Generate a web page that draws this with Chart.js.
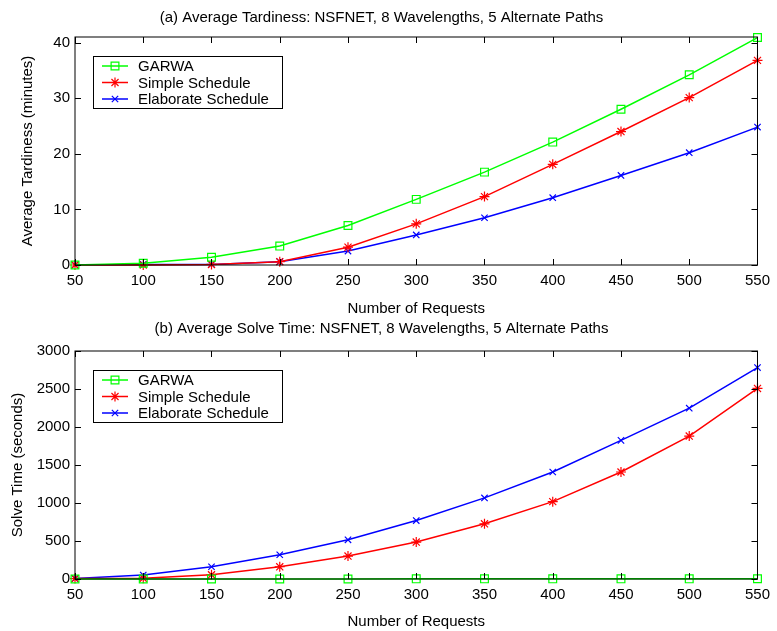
<!DOCTYPE html>
<html>
<head>
<meta charset="utf-8">
<script src="https://cdn.jsdelivr.net/npm/chart.js@4/dist/chart.umd.min.js"></script>
<style>
  body { margin: 0; background: #fff; }
  canvas { display: block; }
</style>
</head>
<body>
<canvas id="tardChart" width="777" height="318"></canvas>
<canvas id="solveChart" width="777" height="313"></canvas>
<script>
// number of requests (x axis)
const requests = [50, 100, 150, 200, 250, 300, 350, 400, 450, 500, 550];
const seriesNames = ['GARWA', 'Simple Schedule', 'Elaborate Schedule'];

// (a) average tardiness, minutes
const tardGarwa = [0, 0.3, 1.4, 3.4, 7.1, 11.8, 16.7, 22.1, 28.0, 34.2, 40.9];
const tardSimple = [0, 0, 0.1, 0.6, 3.2, 7.4, 12.3, 18.1, 24.0, 30.1, 36.8];
const tardElaborate = [0, 0.1, 0.1, 0.6, 2.5, 5.4, 8.5, 12.1, 16.1, 20.2, 24.8];

// (b) average solve time, seconds
const solveGarwa = [1, 1, 1, 1, 1, 2, 2, 2, 2, 2, 3];
const solveSimple = [5, 10, 56, 161, 302, 486, 726, 1018, 1408, 1881, 2507];
const solveElaborate = [5, 52, 161, 319, 516, 769, 1067, 1408, 1824, 2248, 2782];

const FONT = "'Liberation Sans', Arial, Helvetica, sans-serif";
const colors = ['#00ff00', '#ff0000', '#0000ff'];
const markers = ['rect', 'star', 'crossRot'];
const markerSize = [5.5, 5, 4.5];

Chart.defaults.font.family = FONT;
Chart.defaults.font.size = 15;
Chart.defaults.color = '#000';

// draw a marker by hand (used in the legend)
function drawMarker(ctx, type, x, y, r) {
  ctx.beginPath();
  if (type === 'rect') {
    const s = r * Math.SQRT1_2;
    ctx.rect(x - s, y - s, 2 * s, 2 * s);
  } else {
    if (type === 'star') {
      ctx.moveTo(x - r, y); ctx.lineTo(x + r, y);
      ctx.moveTo(x, y - r); ctx.lineTo(x, y + r);
    }
    const d = r * Math.SQRT1_2;
    ctx.moveTo(x - d, y - d); ctx.lineTo(x + d, y + d);
    ctx.moveTo(x - d, y + d); ctx.lineTo(x + d, y - d);
  }
  ctx.stroke();
}

// box around the plot with inward ticks on every side
const framePlugin = {
  id: 'frame',
  afterDatasetsDraw(chart) {
    const { ctx, chartArea: a } = chart;
    const xs = chart.scales.x, ys = chart.scales.y;
    const len = 6;
    ctx.save();
    ctx.strokeStyle = '#000';
    ctx.lineWidth = 1;
    ctx.strokeRect(a.left, a.top, a.right - a.left, a.bottom - a.top);
    ctx.beginPath();
    xs.ticks.forEach((t, i) => {
      const px = Math.round(xs.getPixelForTick(i)) + 0.5;
      ctx.moveTo(px, a.bottom); ctx.lineTo(px, a.bottom - len);
      ctx.moveTo(px, a.top); ctx.lineTo(px, a.top + len);
    });
    ys.ticks.forEach(t => {
      const py = Math.round(ys.getPixelForValue(t.value)) + 0.5;
      ctx.moveTo(a.left, py); ctx.lineTo(a.left + len, py);
      ctx.moveTo(a.right, py); ctx.lineTo(a.right - len, py);
    });
    ctx.stroke();
    ctx.restore();
  }
};

// legend box inside the upper left of the plot
const boxLegendPlugin = {
  id: 'boxLegend',
  afterDraw(chart) {
    const { ctx, chartArea: a } = chart;
    const bx = a.left + 18, by = a.top + 19, bw = 189, bh = 52;
    ctx.save();
    ctx.fillStyle = '#fff';
    ctx.fillRect(bx, by, bw, bh);
    ctx.strokeStyle = '#000';
    ctx.lineWidth = 1;
    ctx.strokeRect(bx + 0.5, by + 0.5, bw, bh);
    chart.data.datasets.forEach((ds, i) => {
      const y = by + 10 + i * 16.5;
      ctx.strokeStyle = ds.borderColor;
      ctx.lineWidth = 1.5;
      ctx.beginPath();
      ctx.moveTo(bx + 9, y); ctx.lineTo(bx + 35, y);
      ctx.stroke();
      ctx.lineWidth = 1.2;
      drawMarker(ctx, ds.pointStyle, bx + 22, y, ds.pointRadius);
      ctx.fillStyle = '#000';
      ctx.font = '15px ' + FONT;
      ctx.textBaseline = 'middle';
      ctx.textAlign = 'left';
      ctx.fillText(ds.label, bx + 45, y + 1);
    });
    ctx.restore();
  }
};

function makeChart(id, opts) {
  const datasets = opts.series.map((vals, i) => ({
    label: seriesNames[i],
    data: vals,
    borderColor: colors[i],
    backgroundColor: colors[i],
    pointBackgroundColor: 'rgba(0,0,0,0)',
    pointBorderColor: colors[i],
    pointStyle: markers[i],
    pointRadius: markerSize[i],
    pointBorderWidth: 1.2,
    borderWidth: 1.5,
    tension: 0,
    clip: false
  }));

  return new Chart(document.getElementById(id), {
    type: 'line',
    data: { labels: requests, datasets: datasets },
    options: {
      responsive: false,
      animation: false,
      layout: { padding: { left: 0, right: 14, top: 0, bottom: 0 } },
      plugins: {
        legend: { display: false },
        tooltip: { enabled: false },
        title: {
          display: true,
          text: opts.title,
          font: { size: 15, weight: 'normal' },
          padding: opts.titlePad
        }
      },
      scales: {
        x: {
          type: 'category',
          offset: false,
          grid: { display: false, drawTicks: false },
          border: { display: false },
          ticks: { padding: 7, maxRotation: 0, autoSkip: false },
          title: { display: true, text: 'Number of Requests', padding: { top: 0, bottom: 0 } },
          afterFit(scale) { scale.height = opts.xAxisHeight; }
        },
        y: {
          min: 0,
          max: opts.yMax,
          grid: { display: false, drawTicks: false },
          border: { display: false },
          ticks: {
            stepSize: opts.yStep,
            padding: 5,
            includeBounds: false,
            callback: v => String(v)
          },
          title: { display: true, text: opts.yTitle, padding: { top: opts.yTitlePad, bottom: opts.yTitlePad } },
          afterBuildTicks(scale) {
            scale.ticks = scale.ticks.filter(t => t.value % opts.yStep === 0);
          },
          afterFit(scale) { scale.width = 75; }
        }
      }
    },
    plugins: [framePlugin, boxLegendPlugin]
  });
}

makeChart('tardChart', {
  title: '(a) Average Tardiness: NSFNET, 8 Wavelengths, 5 Alternate Paths',
  titlePad: { top: 9, bottom: 10 },
  series: [tardGarwa, tardSimple, tardElaborate],
  yMax: 41,
  yStep: 10,
  yTitle: 'Average Tardiness (minutes)',
  yTitlePad: 19,
  xAxisHeight: 53
});

makeChart('solveChart', {
  title: '(b) Average Solve Time: NSFNET, 8 Wavelengths, 5 Alternate Paths',
  titlePad: { top: 2, bottom: 13 },
  series: [solveGarwa, solveSimple, solveElaborate],
  yMax: 3000,
  yStep: 500,
  yTitle: 'Solve Time (seconds)',
  yTitlePad: 9,
  xAxisHeight: 52
});
</script>
</body>
</html>
